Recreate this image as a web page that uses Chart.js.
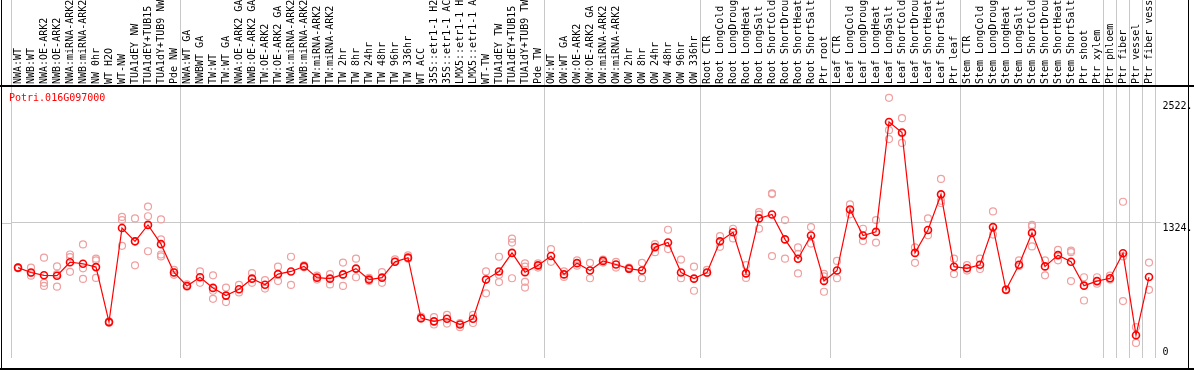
<!DOCTYPE html>
<html>
<head>
<meta charset="utf-8">
<script src="https://cdn.jsdelivr.net/npm/chart.js@4.4.1/dist/chart.umd.min.js"></script>
<style>
  html, body { margin: 0; padding: 0; background: #fff; }
  canvas { display: block; }
</style>
</head>
<body>
<canvas id="profile" width="1194" height="370"></canvas>
<script>
const geneId = "Potri.016G097000";

const samples = [
  "NWA:WT", "NWB:WT", "NWA:OE-ARK2", "NWB:OE-ARK2", "NWA:miRNA-ARK2", "NWB:miRNA-ARK2",
  "NW 0hr", "WT H2O", "WT-NW", "TUA1dEY NW", "TUA1dEY+TUB15 NW", "TUA1dY+TUB9 NW", "Pde NW",
  "NWA:WT GA", "NWBWT GA", "TW:WT", "TW:WT GA", "NWA:OE-ARK2 GA", "NWB:OE-ARK2 GA",
  "TW:OE-ARK2", "TW:OE-ARK2 GA", "NWA:miRNA-ARK2", "NWB:miRNA-ARK2", "TW:miRNA-ARK2",
  "TW:miRNA-ARK2", "TW 2hr", "TW 8hr", "TW 24hr", "TW 48hr", "TW 96hr", "TW 336hr",
  "WT ACC", "35S::etr1-1 H2O", "35S::etr1-1 ACC", "LMX5::etr1-1 H2O", "LMX5::etr1-1 ACC",
  "WT-TW", "TUA1dEY TW", "TUA1dEY+TUB15 TW", "TUA1dY+TUB9 TW", "Pde TW",
  "OW:WT", "OW:WT GA", "OW:OE-ARK2", "OW:OE-ARK2 GA", "OW:miRNA-ARK2", "OW:miRNA-ARK2",
  "OW 2hr", "OW 8hr", "OW 24hr", "OW 48hr", "OW 96hr", "OW 336hr",
  "Root CTR", "Root LongCold", "Root LongDrought", "Root LongHeat", "Root LongSalt",
  "Root ShortCold", "Root ShortDrought", "Root ShortHeat", "Root ShortSalt", "Ptr root",
  "Leaf CTR", "Leaf LongCold", "Leaf LongDrought", "Leaf LongHeat", "Leaf LongSalt",
  "Leaf ShortCold", "Leaf ShortDrought", "Leaf ShortHeat", "Leaf ShortSalt", "Ptr leaf",
  "Stem CTR", "Stem LongCold", "Stem LongDrought", "Stem LongHeat", "Stem LongSalt",
  "Stem ShortCold", "Stem ShortDrought", "Stem ShortHeat", "Stem ShortSalt", "Ptr shoot",
  "Ptr xylem", "Ptr phloem", "Ptr fiber", "Ptr vessel", "Ptr fiber vessel"
];

// mean expression per sample
const means = [
  884, 836, 808, 804, 937, 922, 889, 347, 1274, 1143,
  1305, 1115, 836, 703, 789, 684, 608, 671, 775, 715,
  820, 846, 896, 785, 775, 817, 874, 766, 785, 941,
  982, 386, 354, 380, 323, 380, 766, 846, 1029, 839,
  906, 998, 817, 928, 855, 950, 915, 874, 855, 1086,
  1131, 836, 775, 836, 1143, 1232, 827, 1369, 1407, 1162,
  972, 1200, 753, 855, 1457, 1200, 1236, 2319, 2215, 1029,
  1254, 1606, 893, 877, 912, 1283, 665, 912, 1226, 896,
  1007, 941, 706, 751, 779, 1026, 218, 791
];

// individual replicates per sample
const replicates = [
  [887, 877, 880], [884, 830, 804], [982, 734, 703], [896, 820, 696], [1013, 988, 842],
  [1112, 877, 772], [972, 956, 782], [340, 347, 354], [1384, 1352, 1099], [1369, 1143, 906],
  [1486, 1390, 1045], [1359, 1162, 1013, 994], [861, 836, 813], [718, 696], [846, 734],
  [808, 656, 576], [687, 544], [713, 639], [830, 734], [760, 677],
  [893, 751], [991, 713], [906, 887], [804, 766], [820, 718],
  [934, 813, 703], [972, 789], [782, 751], [839, 734], [965, 941],
  [1004, 972], [402, 380], [395, 323], [418, 332], [338, 297],
  [418, 338], [846, 630], [991, 813, 741], [1169, 1131, 779], [925, 893, 744, 687],
  [925, 884], [1067, 941], [846, 792], [956, 903], [931, 779],
  [963, 934], [941, 884], [884, 868], [931, 779], [1115, 1036],
  [1257, 1067], [963, 779], [893, 656], [861, 830], [1194, 1089],
  [1267, 1172], [908, 782], [1431, 1407, 1267], [1616, 1609, 998], [1352, 972],
  [1083, 1020, 827], [1283, 1121], [823, 798, 646], [950, 779], [1507, 1409],
  [1267, 1146], [1352, 1131], [2557, 2239, 2151], [2357, 2208, 2113], [1083, 931],
  [1369, 1203], [1758, 1543, 1521], [972, 820], [908, 855], [972, 870],
  [1438, 1210], [660, 670], [956, 899], [1305, 1289, 1093], [956, 808],
  [1058, 956], [1051, 1036, 751], [789, 560], [789, 725], [804, 766],
  [1533, 994, 554], [297, 142], [934, 665]
];

const yTicks = [0, 1324, 2522];
// sample groups are separated by a grey line before these indexes
const groupStarts = [0, 13, 41, 53, 63, 73, 84, 85, 86, 87];

const replicatePoints = replicates.flatMap((vals, i) => vals.map((v) => ({ x: i, y: v })));

const mono = "'DejaVu Sans Mono', 'Liberation Mono', monospace";

// outer frame + gene name, drawn on top
const framePlugin = {
  id: "frame",
  afterDraw(chart) {
    const ctx = chart.ctx;
    const area = chart.chartArea;
    ctx.save();
    ctx.fillStyle = "#000";
    ctx.fillRect(1, 0, 1, 370);
    ctx.fillRect(1188, 0, 1, 370);
    ctx.fillRect(0, 85, 1194, 2);
    ctx.fillRect(0, 368, 1194, 2);
    ctx.strokeStyle = "#c8c8c8";
    ctx.lineWidth = 1;
    const y = Math.round(chart.scales.y.getPixelForValue(1324)) + 0.5;
    ctx.beginPath();
    ctx.moveTo(2, y);
    ctx.lineTo(area.left, y);
    ctx.stroke();
    ctx.fillStyle = "#ff0000";
    ctx.font = "10px " + mono;
    ctx.textBaseline = "alphabetic";
    ctx.fillText(geneId, 9, 101);
    ctx.restore();
  }
};

new Chart(document.getElementById("profile"), {
  type: "line",
  data: {
    labels: samples,
    datasets: [
      {
        label: "mean",
        data: means,
        borderColor: "#ff0000",
        borderWidth: 1.2,
        pointRadius: 3.5,
        pointBorderWidth: 1.6,
        pointBorderColor: "#ff0000",
        pointBackgroundColor: "rgba(0,0,0,0)",
        tension: 0,
        xAxisID: "x",
      },
      {
        label: "replicates",
        data: replicatePoints,
        showLine: false,
        pointRadius: 3.5,
        pointBorderWidth: 1.2,
        pointBorderColor: "#f0a0a0",
        pointBackgroundColor: "rgba(0,0,0,0)",
        xAxisID: "xr",
      },
    ],
  },
  options: {
    responsive: false,
    animation: false,
    devicePixelRatio: 1,
    layout: { padding: { left: 11.5, right: 0, top: 0, bottom: 2 } },
    plugins: {
      legend: { display: false },
      tooltip: { enabled: false },
    },
    scales: {
      x: {
        type: "category",
        position: "top",
        offset: true,
        grid: {
          offset: true,
          drawTicks: true,
          tickLength: 86,
          lineWidth: 1,
          color: (c) => (c.index === undefined || groupStarts.includes(c.index) ? "#c8c8c8" : "rgba(0,0,0,0)"),
        },
        border: { display: false },
        ticks: {
          autoSkip: false,
          minRotation: 90,
          maxRotation: 90,
          padding: -84,
          labelOffset: 10,
          color: "#000",
          font: { family: mono, size: 10, lineHeight: 1 },
          callback: function (value) {
            return this.getLabelForValue(value).slice(0, 14);
          },
        },
        afterFit: (axis) => { axis.height = 86; },
      },
      xr: {
        type: "linear",
        display: false,
        min: -0.5,
        max: samples.length - 0.5,
      },
      y: {
        position: "right",
        min: -7,
        max: 2674,
        afterBuildTicks: (axis) => { axis.ticks = yTicks.map((v) => ({ value: v })); },
        grid: {
          drawTicks: true,
          tickLength: 5,
          color: (c) => (c.tick && c.tick.value === 1324 ? "#c8c8c8" : "rgba(0,0,0,0)"),
        },
        border: { display: false },
        ticks: {
          padding: 2,
          color: "#000",
          font: { family: mono, size: 10, lineHeight: 1 },
          callback: (v) => (v === 0 ? ["0", ""] : ["", v + "."]),
        },
        afterFit: (axis) => { axis.width = 38.5; },
      },
    },
  },
  plugins: [framePlugin],
});
</script>
</body>
</html>
